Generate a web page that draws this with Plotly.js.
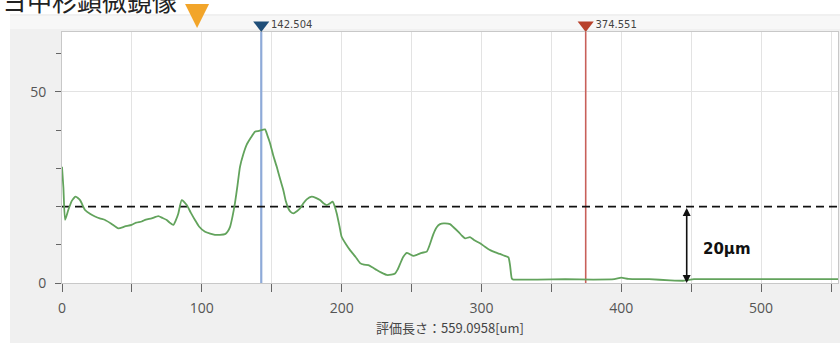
<!DOCTYPE html>
<html>
<head>
<meta charset="utf-8">
<script src="https://cdn.plot.ly/plotly-3.0.1.min.js"></script>
<style>html,body{margin:0;padding:0;background:#fff;}#chart{width:840px;height:352px;}</style>
</head>
<body>
<div id="chart"></div>
<script>
// Profile data (x in um, height in um)
const profileX = [0,1,2.2,4.5,7,9.8,12.9,16.5,20,23.6,27,30.8,35,40.3,45,49.8,53,57,60,64.1,68.9,72,74.9,77,79.6,81.5,83.2,85.6,89.2,92,95.1,98,102.3,106,109.4,113,116.6,118.5,120.2,122,123.7,125.5,127.3,129.5,132.1,135,138,141,145.2,147,148.8,151,153.6,156,158.3,160,161.9,163.5,165.5,168,170.2,172.5,175,178.6,181.5,184.5,187,189.3,191.5,193.6,195,196.5,198.5,200,203,206,210,213.2,216,219.1,222,225.1,228.5,232.3,235.5,238.2,240,241.8,244,246.6,249,251.3,254,257.3,260.9,263,265.6,268,270.4,273,277.5,280,283.5,286,288.3,291.8,295,299,302.5,306.2,310,313.3,316,319.3,320.5,321.7,322.9,330,340,360,380,395,400,405,420,435,445,452,470,500,530,559.1];
const profileY = [30.4,25,16.5,19.1,21.5,22.6,21.7,19.1,18.1,17.4,16.9,16.5,15.6,14.3,14.8,15.2,15.8,16.1,16.6,16.9,17.5,17.0,16.5,15.8,15.2,16.5,18.2,21.7,20.4,18.5,16.5,14.8,13.4,12.9,12.6,12.6,12.8,13.5,14.7,17.5,20.9,25.5,30.4,33.5,36.2,38,39.6,39.8,40.2,38.5,36.6,33.5,30.4,27.2,24.3,21.5,19.5,18.6,18.2,18.8,19.5,20.8,21.9,22.6,22.3,21.7,20.9,20.4,20.8,21.3,20.1,18.2,14.8,12.1,10.2,8.6,6.8,5.2,4.8,4.7,4.1,3.4,2.7,2.1,2.2,2.5,3.5,5.0,6.8,7.9,7.5,7.1,7.4,7.9,8.2,10,12.8,14.6,15.4,15.6,15.4,14.6,13.4,12.4,11.7,12,11.2,10.4,9.5,8.6,8.0,7.6,7.2,6.7,4.5,1.2,0.9,0.9,0.9,1.0,0.9,1.0,1.4,1.1,1.0,0.7,0.6,1.0,1.0,1.0,1.0,1.0];

const cursorX = [142.504, 374.551];
const cursorLabels = ['142.504', '374.551'];
const cursorColors = ['#1f4e79', '#b8402a'];
const cursorLineColors = ['#8eaad8', '#c8605a'];
const pointerX = [96.6];
const refLevel = 20;
const arrowX = 446.8;
const refLabel = '20μm';
const xTitle = '評価長さ：559.0958[um]';
const headerText = 'ヨ中杉顕微鏡像';

const xRange = [0, 555];
const yRange = [0, 65.7];

const H = 283; // paper height in px (t=0)
const mainTop = 251 / H;

const traces = [];
cursorX.forEach((cx, i) => {
  traces.push({x:[cx,cx], y:[0, yRange[1]], mode:'lines', line:{color:cursorLineColors[i], width: i===0?2.2:1.6}, hoverinfo:'skip', showlegend:false});
});
traces.push({x:[xRange[0], xRange[1]], y:[refLevel, refLevel], mode:'lines', line:{color:'#111', width:1.9, dash:'8px,5px'}, showlegend:false, hoverinfo:'skip'});
traces.push({x:profileX, y:profileY, mode:'lines', line:{color:'#62a35c', width:1.8, shape:'spline', smoothing:0.5}, showlegend:false});
// cursor markers in the top strip
traces.push({x:cursorX, y:cursorX.map(()=>7), xaxis:'x2', yaxis:'y2', mode:'markers+text', text:cursorLabels, textposition:'middle right',
  textfont:{family:'DejaVu Sans, sans-serif', size:10, color:'#444'},
  marker:{symbol:'triangle-down', size:14, color:cursorColors, line:{width:0}}, cliponaxis:false, showlegend:false});
// orange pointer (tip sits at the marker position)
traces.push({x:pointerX, y:[4], xaxis:'x2', yaxis:'y2', mode:'markers', marker:{symbol:'arrow-down', size:24, color:'#f2a52a', line:{width:0}}, cliponaxis:false, showlegend:false});

const tickFont = {family:'Open Sans, DejaVu Sans, sans-serif', size:14, color:'#555'};
const layout = {
  width:840, height:352,
  margin:{l:62, r:2, t:0, b:69},
  paper_bgcolor:'#f0f0f0', plot_bgcolor:'rgba(0,0,0,0)',
  xaxis:{range:xRange, dtick:100, tick0:0, ticks:'outside', ticklen:8, tickcolor:'#666', tickwidth:1,
    showgrid:true, gridcolor:'#e3e3e3', zeroline:false, showline:true, linecolor:'#c8c8c8', mirror:true,
    tickfont:tickFont, ticklabelstandoff:4, anchor:'y',
    minor:{dtick:50, tick0:0, ticks:'outside', ticklen:8, tickcolor:'#666', showgrid:true, gridcolor:'#e3e3e3'},
    title:{text:xTitle, font:{family:'Noto Sans CJK JP, sans-serif', size:13, color:'#444'}, standoff:8}},
  yaxis:{domain:[0, mainTop], range:yRange, dtick:50, tick0:0, ticks:'outside', ticklen:6, tickcolor:'#666',
    showgrid:true, gridcolor:'#e3e3e3', zeroline:false, showline:true, linecolor:'#c8c8c8', mirror:true,
    tickfont:tickFont, ticklabelstandoff:6, anchor:'x',
    minor:{dtick:10, tick0:0, ticks:'outside', ticklen:5, tickcolor:'#666', showgrid:false}},
  xaxis2:{matches:'x', anchor:'y2', visible:false},
  yaxis2:{domain:[mainTop, 1], anchor:'x2', range:[0, 32], visible:false},
  shapes:[
    {type:'rect', xref:'paper', yref:'paper', x0:0, x1:1, y0:0, y1:mainTop, fillcolor:'#ffffff', line:{width:0}, layer:'below'},
    {type:'rect', xref:'paper', yref:'paper', x0:-0.1, x1:1.1, y0:(H-14)/H, y1:1.3, fillcolor:'#ffffff', line:{width:0}, layer:'below'},
    {type:'rect', xref:'paper', yref:'paper', x0:-0.1, x1:(10-62)/776, y0:-0.4, y1:1.3, fillcolor:'#ffffff', line:{width:0}, layer:'below'},
    {type:'rect', xref:'paper', yref:'paper', x0:-0.1, x1:1.1, y0:-0.4, y1:(H-343)/H, fillcolor:'#ffffff', line:{width:0}, layer:'below'},
    {type:'rect', xref:'paper', yref:'paper', x0:(10-62)/776, x1:1.1, y0:(H-29)/H, y1:(H-16)/H, fillcolor:'#f7f7f7', line:{width:0}, layer:'below'}
  ],
  annotations:[
    {x:arrowX, y:0, ax:arrowX, ay:refLevel, xref:'x', yref:'y', axref:'x', ayref:'y', text:'', showarrow:true,
      arrowhead:2, startarrowhead:2, arrowside:'end+start', arrowsize:1, arrowwidth:1.6, arrowcolor:'#111'},
    {x:arrowX+10, y:8.8, xref:'x', yref:'y', xanchor:'left', yanchor:'middle', text:'<b>'+refLabel+'</b>', showarrow:false,
      font:{family:'DejaVu Sans, sans-serif', size:15, color:'#111'}},
    {x:-0.08, y:1.0, xref:'paper', yref:'paper', xanchor:'left', yanchor:'middle', text:headerText, showarrow:false,
      font:{family:'Noto Sans CJK JP, sans-serif', size:25, color:'#222'}}
  ],
  showlegend:false
};
Plotly.newPlot('chart', traces, layout, {staticPlot:true, displayModeBar:false});
</script>
</body>
</html>
